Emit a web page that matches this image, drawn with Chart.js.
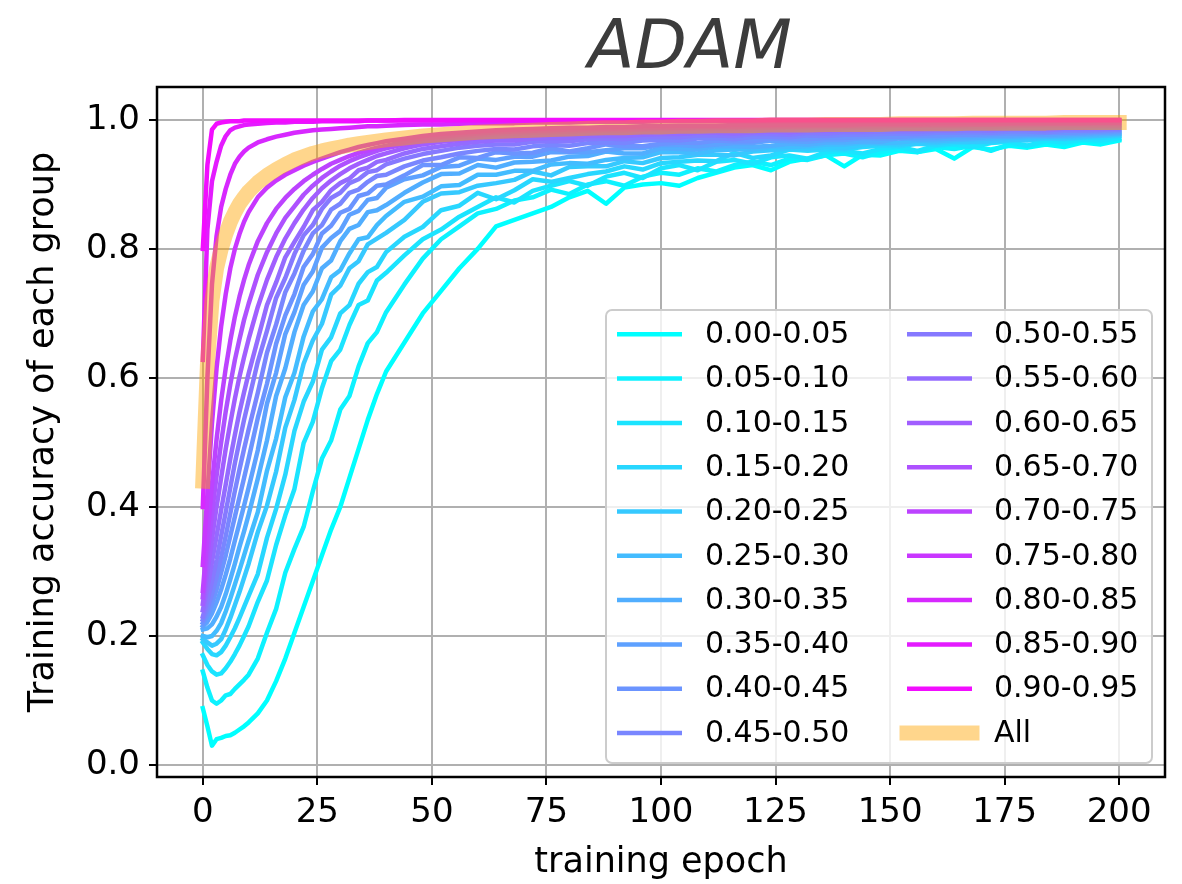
<!DOCTYPE html>
<html>
<head>
<meta charset="utf-8">
<script src="https://cdn.jsdelivr.net/npm/chart.js@4.4.0/dist/chart.umd.min.js"></script>
<style>
  html, body { margin: 0; padding: 0; background: #fff; }
</style>
</head>
<body>
<canvas id="myChart" width="1182" height="884"></canvas>
<script>
// epochs the curves were read at (dense early, every 4 epochs later)
const epochs = [0,1,2,3,4,5,6,7,8,9,10,
  12,14,16,18,20,22,24,26,28,30,32,34,36,38,40,
  44,48,52,56,60,64,68,72,76,80,84,88,92,96,100,104,108,112,116,120,124,128,132,136,140,
  144,148,152,156,160,164,168,172,176,180,184,188,192,196,200];

const groupLabels = ["0.00-0.05","0.05-0.10","0.10-0.15","0.15-0.20","0.20-0.25","0.25-0.30",
  "0.30-0.35","0.35-0.40","0.40-0.45","0.45-0.50","0.50-0.55","0.55-0.60","0.60-0.65",
  "0.65-0.70","0.70-0.75","0.75-0.80","0.80-0.85","0.85-0.90","0.90-0.95"];

const xTicks = [0,25,50,75,100,125,150,175,200];
const yTicks = [0,0.2,0.4,0.6,0.8,1.0];

// training accuracy per group
const acc00 = [0.088,0.060,0.030,0.040,0.042,0.045,0.046,0.050,0.055,0.060,0.066,
  0.080,0.100,0.130,0.165,0.205,0.245,0.285,0.325,0.365,0.400,0.445,0.490,0.535,0.575,0.610,
  0.655,0.700,0.735,0.770,0.800,0.835,0.845,0.855,0.865,0.880,0.890,0.870,0.895,0.900,
  0.902,0.898,0.910,0.918,0.926,0.930,0.922,0.935,0.940,0.945,0.928,0.946,0.945,0.952,
  0.950,0.955,0.940,0.958,0.954,0.960,0.957,0.962,0.958,0.965,0.962,0.968];
const acc05 = [0.145,0.120,0.100,0.095,0.100,0.108,0.110,0.118,0.125,0.132,0.140,
  0.165,0.205,0.242,0.298,0.335,0.369,0.424,0.475,0.503,0.551,0.572,0.618,0.654,0.671,0.702,
  0.745,0.785,0.815,0.835,0.855,0.862,0.875,0.880,0.892,0.885,0.900,0.905,0.898,0.912,
  0.918,0.915,0.925,0.920,0.930,0.935,0.930,0.940,0.938,0.945,0.948,0.942,0.950,0.955,
  0.950,0.958,0.955,0.960,0.952,0.962,0.960,0.965,0.962,0.968,0.965,0.970];
const acc10 = [0.170,0.155,0.145,0.140,0.142,0.150,0.160,0.172,0.185,0.200,0.215,
  0.253,0.286,0.341,0.387,0.428,0.499,0.532,0.584,0.626,0.644,0.682,0.713,0.720,0.751,0.763,
  0.790,0.815,0.830,0.850,0.865,0.880,0.872,0.890,0.898,0.905,0.898,0.912,0.918,0.910,
  0.925,0.930,0.922,0.935,0.938,0.932,0.942,0.945,0.940,0.950,0.952,0.948,0.955,0.958,
  0.952,0.960,0.962,0.958,0.964,0.966,0.960,0.968,0.965,0.970,0.968,0.972];
const acc15 = [0.190,0.180,0.172,0.170,0.175,0.185,0.198,0.212,0.228,0.245,0.262,
  0.296,0.352,0.397,0.450,0.518,0.563,0.594,0.644,0.663,0.700,0.713,0.746,0.764,0.772,0.795,
  0.819,0.834,0.860,0.867,0.887,0.877,0.891,0.908,0.904,0.910,0.916,0.920,0.928,0.923,
  0.933,0.935,0.937,0.936,0.949,0.941,0.945,0.954,0.952,0.954,0.954,0.958,0.960,0.959,
  0.963,0.961,0.964,0.965,0.965,0.968,0.968,0.971,0.970,0.972,0.972,0.975];
const acc20 = [0.195,0.190,0.185,0.188,0.195,0.210,0.228,0.248,0.268,0.290,0.312,
  0.361,0.402,0.455,0.523,0.566,0.622,0.658,0.684,0.729,0.743,0.770,0.781,0.807,0.816,0.825,
  0.845,0.873,0.886,0.888,0.898,0.902,0.907,0.920,0.914,0.927,0.928,0.928,0.936,0.933,
  0.941,0.942,0.946,0.946,0.945,0.951,0.953,0.956,0.955,0.958,0.956,0.961,0.963,0.962,
  0.964,0.964,0.967,0.966,0.967,0.969,0.970,0.972,0.971,0.973,0.975,0.976];
const acc25 = [0.200,0.198,0.200,0.208,0.220,0.238,0.258,0.280,0.302,0.325,0.348,
  0.392,0.456,0.506,0.570,0.608,0.664,0.703,0.722,0.756,0.767,0.793,0.815,0.818,0.837,0.851,
  0.873,0.881,0.897,0.899,0.915,0.915,0.921,0.921,0.931,0.933,0.932,0.938,0.941,0.942,
  0.950,0.950,0.948,0.953,0.954,0.954,0.958,0.958,0.959,0.962,0.962,0.965,0.964,0.965,
  0.968,0.967,0.969,0.970,0.971,0.972,0.973,0.974,0.974,0.975,0.976,0.978];
const acc30 = [0.210,0.212,0.218,0.230,0.245,0.265,0.288,0.312,0.338,0.362,0.388,
  0.444,0.503,0.572,0.615,0.671,0.713,0.734,0.770,0.782,0.812,0.831,0.837,0.857,0.860,0.868,
  0.887,0.903,0.916,0.917,0.930,0.926,0.934,0.935,0.937,0.943,0.944,0.951,0.948,0.948,
  0.956,0.955,0.954,0.959,0.959,0.958,0.960,0.963,0.962,0.965,0.965,0.967,0.966,0.972,
  0.970,0.970,0.971,0.972,0.974,0.974,0.975,0.975,0.976,0.977,0.978,0.979];
const acc35 = [0.215,0.222,0.235,0.252,0.272,0.295,0.320,0.348,0.375,0.402,0.430,
  0.488,0.560,0.608,0.668,0.702,0.744,0.765,0.802,0.817,0.828,0.853,0.859,0.876,0.879,0.895,
  0.908,0.914,0.927,0.929,0.940,0.938,0.943,0.943,0.950,0.950,0.950,0.953,0.956,0.956,
  0.961,0.961,0.959,0.962,0.964,0.964,0.968,0.967,0.966,0.969,0.969,0.972,0.971,0.971,
  0.974,0.973,0.975,0.975,0.976,0.976,0.977,0.977,0.978,0.979,0.980,0.981];
const acc40 = [0.220,0.232,0.250,0.272,0.298,0.325,0.355,0.385,0.415,0.445,0.475,
  0.538,0.591,0.653,0.697,0.730,0.772,0.792,0.824,0.836,0.856,0.862,0.882,0.886,0.898,0.900,
  0.914,0.930,0.930,0.942,0.941,0.950,0.948,0.949,0.956,0.951,0.956,0.962,0.959,0.959,
  0.963,0.965,0.964,0.968,0.967,0.967,0.971,0.970,0.970,0.972,0.972,0.974,0.974,0.974,
  0.976,0.976,0.977,0.977,0.978,0.979,0.979,0.980,0.980,0.981,0.982,0.983];
const acc45 = [0.225,0.242,0.265,0.292,0.322,0.355,0.390,0.425,0.458,0.490,0.520,
  0.577,0.639,0.683,0.733,0.762,0.797,0.824,0.837,0.861,0.870,0.887,0.892,0.904,0.913,0.915,
  0.928,0.937,0.942,0.948,0.952,0.955,0.954,0.959,0.961,0.960,0.964,0.965,0.964,0.968,
  0.969,0.968,0.971,0.972,0.970,0.974,0.974,0.973,0.976,0.975,0.977,0.977,0.978,0.979,
  0.978,0.980,0.980,0.981,0.980,0.982,0.982,0.981,0.983,0.983,0.984,0.985];
const acc50 = [0.230,0.255,0.285,0.318,0.355,0.392,0.430,0.468,0.502,0.535,0.565,
  0.625,0.673,0.724,0.755,0.792,0.821,0.837,0.862,0.879,0.887,0.902,0.908,0.919,0.922,0.931,
  0.940,0.947,0.952,0.957,0.960,0.962,0.962,0.966,0.967,0.967,0.970,0.971,0.970,0.973,
  0.974,0.973,0.976,0.976,0.975,0.978,0.978,0.977,0.980,0.979,0.981,0.981,0.982,0.982,
  0.982,0.983,0.983,0.984,0.983,0.985,0.985,0.984,0.986,0.986,0.986,0.987];
const acc55 = [0.240,0.275,0.315,0.355,0.395,0.435,0.475,0.512,0.547,0.578,0.607,
  0.660,0.713,0.748,0.787,0.811,0.834,0.860,0.873,0.891,0.902,0.909,0.922,0.926,0.935,0.938,
  0.948,0.955,0.959,0.963,0.966,0.968,0.968,0.971,0.972,0.972,0.975,0.975,0.975,0.977,
  0.978,0.978,0.980,0.980,0.979,0.981,0.982,0.981,0.983,0.983,0.984,0.984,0.985,0.985,
  0.985,0.986,0.986,0.987,0.986,0.987,0.988,0.987,0.988,0.988,0.989,0.989];
const acc60 = [0.250,0.300,0.350,0.400,0.445,0.490,0.530,0.568,0.602,0.632,0.660,
  0.710,0.752,0.787,0.816,0.840,0.861,0.879,0.894,0.906,0.916,0.925,0.932,0.938,0.944,0.948,
  0.956,0.962,0.966,0.969,0.972,0.974,0.974,0.976,0.977,0.978,0.979,0.980,0.980,0.981,
  0.982,0.982,0.983,0.984,0.983,0.985,0.985,0.985,0.986,0.986,0.987,0.987,0.987,0.988,
  0.988,0.988,0.989,0.989,0.989,0.990,0.990,0.990,0.990,0.991,0.991,0.991];
const acc65 = [0.260,0.325,0.390,0.448,0.500,0.548,0.590,0.628,0.660,0.690,0.715,
  0.760,0.795,0.824,0.848,0.866,0.884,0.898,0.910,0.920,0.929,0.936,0.942,0.947,0.952,0.956,
  0.962,0.967,0.971,0.974,0.976,0.978,0.979,0.980,0.981,0.982,0.983,0.984,0.984,0.985,
  0.986,0.986,0.987,0.987,0.987,0.988,0.988,0.989,0.989,0.989,0.990,0.990,0.990,0.991,
  0.991,0.991,0.991,0.992,0.992,0.992,0.992,0.993,0.993,0.993,0.993,0.993];
const acc70 = [0.270,0.355,0.435,0.505,0.565,0.615,0.658,0.695,0.726,0.752,0.775,
  0.812,0.840,0.862,0.879,0.893,0.905,0.915,0.924,0.932,0.938,0.944,0.949,0.953,0.957,0.960,
  0.966,0.971,0.974,0.977,0.979,0.981,0.982,0.983,0.984,0.985,0.986,0.986,0.987,0.987,
  0.988,0.988,0.989,0.989,0.989,0.990,0.990,0.990,0.991,0.991,0.991,0.992,0.992,0.992,
  0.992,0.993,0.993,0.993,0.993,0.994,0.994,0.994,0.994,0.994,0.995,0.995];
const acc75 = [0.310,0.420,0.530,0.615,0.680,0.730,0.770,0.800,0.823,0.842,0.857,
  0.880,0.895,0.906,0.915,0.922,0.929,0.935,0.940,0.945,0.950,0.954,0.958,0.961,0.964,0.967,
  0.971,0.975,0.978,0.980,0.982,0.984,0.985,0.986,0.987,0.988,0.988,0.989,0.989,0.990,
  0.990,0.991,0.991,0.991,0.992,0.992,0.992,0.993,0.993,0.993,0.993,0.994,0.994,0.994,
  0.994,0.995,0.995,0.995,0.995,0.995,0.996,0.996,0.996,0.996,0.996,0.996];
const acc80 = [0.400,0.600,0.745,0.820,0.865,0.893,0.915,0.932,0.943,0.951,0.957,
  0.965,0.970,0.974,0.977,0.980,0.982,0.984,0.985,0.986,0.987,0.988,0.989,0.990,0.990,0.991,
  0.992,0.993,0.993,0.994,0.995,0.995,0.995,0.996,0.996,0.996,0.997,0.997,0.997,0.997,
  0.998,0.998,0.998,0.998,0.998,0.998,0.998,0.998,0.998,0.998,0.998,0.998,0.998,0.998,
  0.999,0.999,0.999,0.999,0.999,0.999,0.999,0.999,0.999,0.999,0.999,0.999];
const acc85 = [0.628,0.830,0.905,0.935,0.960,0.975,0.984,0.988,0.990,0.992,0.993,
  0.994,0.995,0.996,0.996,0.997,0.997,0.997,0.998,0.998,0.998,0.998,0.998,0.999,0.999,0.999,
  0.999,0.999,0.999,0.999,0.999,0.999,0.999,0.999,0.999,0.999,0.999,0.999,0.999,0.999,
  0.999,0.999,0.999,0.999,0.999,0.999,1.000,1.000,1.000,1.000,1.000,1.000,1.000,1.000,
  1.000,1.000,1.000,1.000,1.000,1.000,1.000,1.000,1.000,1.000,1.000,1.000];
const acc90 = [0.800,0.930,0.985,0.994,0.996,0.997,0.998,0.998,0.998,0.999,0.999,
  0.999,0.999,0.999,0.999,0.999,0.999,0.999,0.999,0.999,0.999,0.999,0.999,0.999,0.999,0.999,
  1.000,1.000,1.000,1.000,1.000,1.000,1.000,1.000,1.000,1.000,1.000,1.000,1.000,1.000,
  1.000,1.000,1.000,1.000,1.000,1.000,1.000,1.000,1.000,1.000,1.000,1.000,1.000,1.000,
  1.000,1.000,1.000,1.000,1.000,1.000,1.000,1.000,1.000,1.000,1.000,1.000];
// all samples together
const accAll = [0.440,0.620,0.720,0.770,0.800,0.823,0.842,0.857,0.870,0.880,0.889,
  0.903,0.914,0.923,0.931,0.938,0.943,0.948,0.952,0.955,0.958,0.961,0.963,0.965,0.967,0.969,
  0.972,0.975,0.977,0.979,0.981,0.982,0.983,0.984,0.985,0.986,0.987,0.988,0.988,0.989,
  0.989,0.990,0.990,0.991,0.991,0.991,0.992,0.992,0.992,0.993,0.993,0.993,0.993,0.994,
  0.994,0.994,0.994,0.995,0.995,0.995,0.995,0.995,0.996,0.996,0.996,0.996];

const groupAcc = [acc00,acc05,acc10,acc15,acc20,acc25,acc30,acc35,acc40,acc45,
  acc50,acc55,acc60,acc65,acc70,acc75,acc80,acc85,acc90];

// matplotlib "cool" colormap
function coolColor(t) {
  return `rgb(${Math.round(255 * t)}, ${Math.round(255 * (1 - t))}, 255)`;
}
const allColor = "rgba(255, 165, 0, 0.45)";
const FONT = "'DejaVu Sans', 'Liberation Sans', sans-serif";

const datasets = groupLabels.map((label, i) => ({
  label,
  data: epochs.map((e, k) => ({ x: e, y: groupAcc[i][k] })),
  borderColor: coolColor(i / 19),
  borderWidth: 4.5,
  pointRadius: 0,
  borderJoinStyle: "round",
  borderCapStyle: "square",
  order: 40 - i,
}));
datasets.push({
  label: "All",
  data: epochs.map((e, k) => ({ x: e, y: accAll[k] })),
  borderColor: allColor,
  borderWidth: 15,
  pointRadius: 0,
  borderJoinStyle: "round",
  borderCapStyle: "square",
  order: 0,
});

// title, frame and the two-column legend
const decorations = {
  id: "decorations",
  afterDatasetsDraw(chart) {
    const { ctx, chartArea: a } = chart;
    ctx.save();
    ctx.strokeStyle = "#000";
    ctx.lineWidth = 2.5;
    ctx.strokeRect(a.left, a.top, a.right - a.left, a.bottom - a.top);
    ctx.restore();
  },
  afterDraw(chart) {
    const ctx = chart.ctx;
    ctx.save();
    ctx.fillStyle = "#3c3c3c";
    ctx.font = "italic 68px " + FONT;
    ctx.textAlign = "center";
    ctx.textBaseline = "alphabetic";
    ctx.fillText("ADAM", 690, 68);

    // legend box
    const bx = 606, by = 310, bw = 546, bh = 453;
    ctx.beginPath();
    ctx.roundRect(bx, by, bw, bh, 6);
    ctx.fillStyle = "rgba(255,255,255,0.8)";
    ctx.fill();
    ctx.strokeStyle = "#cccccc";
    ctx.lineWidth = 2;
    ctx.stroke();

    ctx.font = "30px " + FONT;
    ctx.textAlign = "left";
    ctx.textBaseline = "middle";
    datasets.forEach((ds, i) => {
      const col = i < 10 ? 0 : 1;
      const row = i % 10;
      const y = 334.3 + row * 44.3;
      const x0 = col === 0 ? 617 : 907;
      ctx.beginPath();
      ctx.moveTo(x0, y);
      ctx.lineTo(x0 + 65, y);
      ctx.strokeStyle = ds.borderColor;
      ctx.lineWidth = ds.borderWidth;
      ctx.lineCap = ds.label === "All" ? "square" : "butt";
      ctx.stroke();
      ctx.fillStyle = "#000";
      ctx.fillText(ds.label, col === 0 ? 705 : 994, y + 1);
    });
    ctx.restore();
  },
};

const config = {
  type: "line",
  data: { datasets },
  options: {
    responsive: false,
    animation: false,
    devicePixelRatio: 1,
    layout: { padding: { top: 87, right: 17, bottom: 0, left: 0 } },
    plugins: { legend: { display: false }, tooltip: { enabled: false } },
    scales: {
      x: {
        type: "linear",
        min: -10,
        max: 210,
        afterBuildTicks: (axis) => { axis.ticks = xTicks.map((v) => ({ value: v })); },
        afterFit: (axis) => { axis.height = 107; },
        border: { display: false },
        grid: { color: "#b0b0b0", lineWidth: 2, tickColor: "#000", tickWidth: 2, tickLength: 8 },
        ticks: { color: "#000", font: { family: FONT, size: 34 }, padding: 8, maxRotation: 0,
          callback: (v) => String(v) },
        title: { display: true, text: "training epoch", color: "#000",
          font: { family: FONT, size: 35 }, padding: { top: 0, bottom: 0 } },
      },
      y: {
        type: "linear",
        min: -0.0186,
        max: 1.051,
        afterBuildTicks: (axis) => { axis.ticks = yTicks.map((v) => ({ value: v })); },
        afterFit: (axis) => { axis.width = 157; },
        border: { display: false },
        grid: { color: "#b0b0b0", lineWidth: 2, tickColor: "#000", tickWidth: 2, tickLength: 8 },
        ticks: { color: "#000", font: { family: FONT, size: 34 }, padding: 9,
          callback: (v) => v.toFixed(1) },
        title: { display: true, text: "Training accuracy of each group", color: "#000",
          font: { family: FONT, size: 35 }, padding: { top: 23, bottom: 0 } },
      },
    },
  },
  plugins: [decorations],
};

new Chart(document.getElementById("myChart"), config);
</script>
</body>
</html>
